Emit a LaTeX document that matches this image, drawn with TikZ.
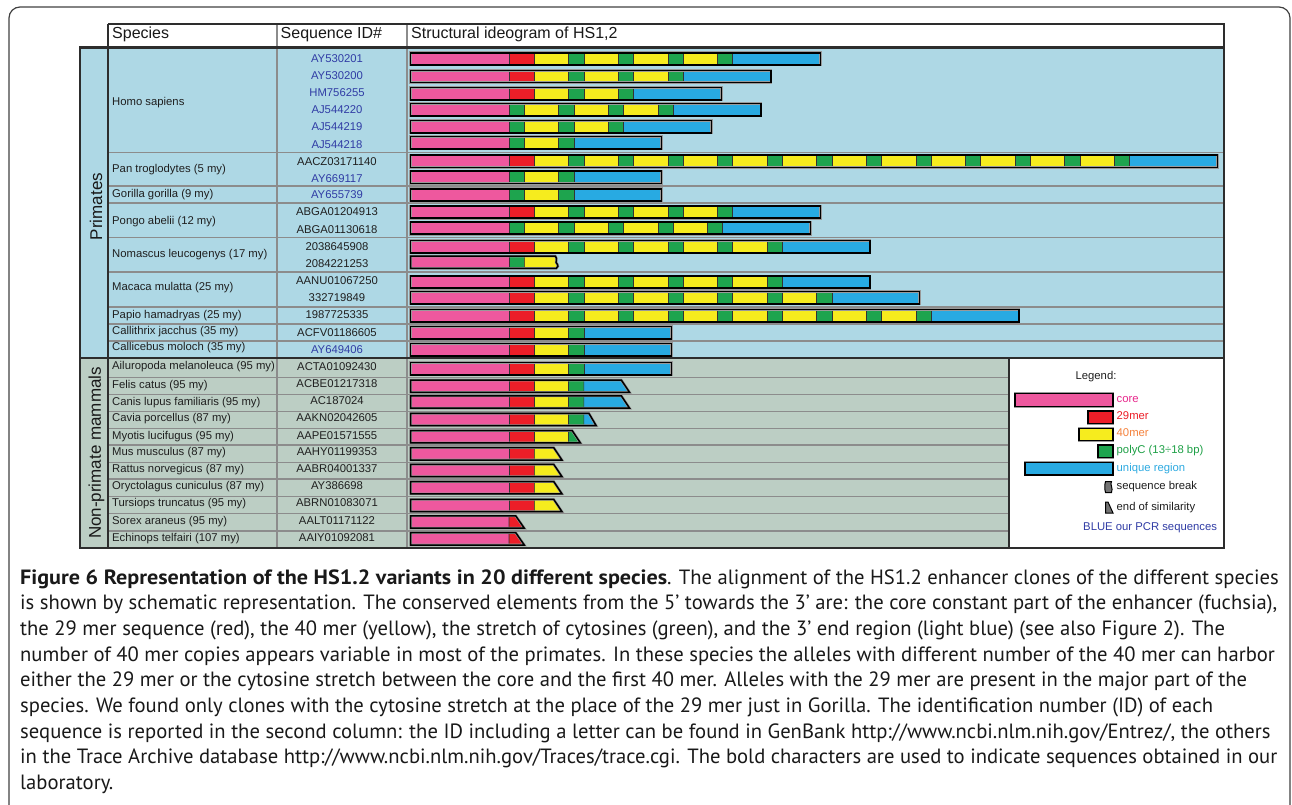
\documentclass[tikz,border=0pt]{standalone}
\usepackage{fontspec}
\usepackage{graphicx}
\setmainfont{Liberation Sans}
\newfontfamily\capfont{PT Sans}
\definecolor{cC}{RGB}{238,88,158}
\definecolor{cR}{RGB}{236,30,40}
\definecolor{cY}{RGB}{246,236,30}
\definecolor{cG}{RGB}{30,164,78}
\definecolor{cB}{RGB}{40,170,226}
\definecolor{bgP}{RGB}{174,216,229}
\definecolor{bgN}{RGB}{188,206,196}
\definecolor{gridgrey}{RGB}{140,140,140}
\definecolor{darkline}{RGB}{45,45,45}
\definecolor{pcrblue}{RGB}{48,60,165}
\definecolor{lgcore}{RGB}{232,40,140}
\definecolor{lgorange}{RGB}{245,130,60}
\definecolor{lggreen}{RGB}{30,160,70}
\definecolor{lgblue}{RGB}{45,170,225}
\definecolor{icongrey}{RGB}{115,115,115}
\def\wC{98.3}\def\wR{25.3}\def\wY{34.3}\def\wG{15.3}\def\wB{87.8}
\def\bh{6.2}
\newcommand\segs[2]{%
  \xdef\curx{410.7}%
  \foreach \segc in {#2}{%
    \pgfmathsetmacro\nx{\curx+\csname w\segc\endcsname}%
    \filldraw[segment, fill=c\segc] (\curx,#1-\bh) rectangle (\nx,#1+\bh);%
    \xdef\curx{\nx}%
  }%
}
\newcommand\plainend[1]{\draw[outline] (410.7,#1-\bh) rectangle (\curx,#1+\bh);}
\newcommand\tipend[4]{%
  \pgfmathsetmacro\xt{\curx+#3}\pgfmathsetmacro\xb{\curx+#4}%
  \filldraw[segment, fill=#2] (\curx,#1-\bh) -- (\xt,#1-\bh) -- (\xb,#1+\bh) -- (\curx,#1+\bh) -- cycle;
  \draw[outline] (410.7,#1-\bh) -- (\xt,#1-\bh) -- (\xb,#1+\bh) -- (410.7,#1+\bh) -- cycle;}
\newcommand\breakend[2]{%
  \pgfmathsetmacro\xa{\curx+31}%
  \filldraw[segment, fill=#2] (\curx,#1-\bh) -- (\xa,#1-\bh) .. controls (\xa+3,#1-3) and (\xa-1,#1) .. (\xa+2,#1+2) .. controls (\xa+3,#1+4) .. (\xa+1,#1+\bh) -- (\curx,#1+\bh) -- cycle;
  \draw[outline] (410.7,#1-\bh) -- (\xa,#1-\bh) .. controls (\xa+3,#1-3) and (\xa-1,#1) .. (\xa+2,#1+2) .. controls (\xa+3,#1+4) .. (\xa+1,#1+\bh) -- (410.7,#1+\bh) -- cycle;}
\newcommand\captwo{is shown by schematic representation. The conserved elements from the 5’ towards the 3’ are: the core constant part of the enhancer (fuchsia),}
\newcommand\capbold{Figure 6 Representation of the HS1.2 variants in 20 different species}
\newlength\caplen
\newlength\boldlen
\newsavebox\capbox
\begin{document}
\sbox\capbox{\capfont\fontsize{18}{20}\selectfont\captwo}%
\global\caplen=\wd\capbox
\pgfmathsetmacro\capsz{1257/\caplen*18}%
\xdef\capsz{\capsz}%
\sbox\capbox{\capfont\fontsize{\capsz}{\capsz}\selectfont\bfseries\capbold}%
\global\boldlen=\wd\capbox
\pgfmathsetmacro\bsx{647/\boldlen}%
\xdef\bsx{\bsx}%
\begin{tikzpicture}[x=1pt,y=-1pt,
  segment/.style={draw=black!80, line width=0.6pt},
  outline/.style={draw=black, line width=1.5pt, line join=miter, preaction={draw=black!40, line width=2.6pt}},
  legbar/.style={draw=black, line width=1.5pt, preaction={draw=black!40, line width=2.6pt}},
  tbl/.style={font=\fontsize{11.3}{13}\selectfont, inner sep=0pt, text=black!88},
  spec/.style={tbl, anchor=mid west},
  seqid/.style={tbl, anchor=mid},
  pcr/.style={seqid, text=pcrblue},
  hdr/.style={font=\fontsize{16}{18}\selectfont, inner sep=0pt, anchor=mid west, text=black!90},
  grp/.style={font=\fontsize{17}{18}\selectfont, inner sep=0pt, rotate=90, text=black!90},
  leg/.style={tbl, anchor=mid west},
  gridl/.style={draw=gridgrey, line width=1.4pt},
  darkl/.style={draw=darkline, line width=2pt},
  capline/.style={anchor=base west, inner sep=0pt, text=black!90, font=\capfont\fontsize{\capsz}{\capsz}\selectfont},
  frame/.style={draw=black!75, line width=1.2pt, rounded corners=11pt}]
\useasboundingbox (0,0) rectangle (1292,805);
% outer frame
\draw[frame] (9,805) -- (9,7) -- (1290,7) -- (1290,805);
% backgrounds
\fill[bgP] (80,47) rectangle (1224,358);
\fill[bgN] (80,358) rectangle (1224,548);
\fill[white] (1009,358) rectangle (1224,548);
\fill[white] (108,24) rectangle (1224,47);
% grid lines
\foreach \yy in {152.7,186,203,237.6,271.8,307,324,341}{\draw[gridl] (108,\yy) -- (1224,\yy);}
\foreach \yy in {377.7,394.3,411.5,428.3,445,462.3,479,496.6,513.4,530.8}{\draw[gridl] (108,\yy) -- (1009,\yy);}
\draw[gridl] (277,24) -- (277,548);
\draw[gridl] (407,24) -- (407,548);
% dark lines
\draw[draw=darkline, line width=1.2pt] (108,24) -- (1224,24) -- (1224,47);
\draw[draw=darkline, line width=2.6pt] (80,47.5) -- (1224,47.5);
\draw[darkl] (108,24) -- (108,548);
\draw[darkl] (80,47) rectangle (1224,548);
\draw[darkl] (80,358) -- (1224,358);
\draw[darkl] (1009,358) -- (1009,548);
% headers
\node[hdr] (hS) at (112,36) {Species};
\node[hdr] (hI) at (280.5,36) {Sequence ID\#};
\node[hdr] (hG) at (411,36) {Structural ideogram of HS1,2};
% group labels
\node[grp] (gP) at (96,206.5) {Primates};
\node[grp] (gN) at (96.5,453) {Non-primate mammals};
% species
\node[spec] (sHomo) at (112,103) {Homo sapiens};
\node[spec] (sPan) at (112,169.5) {Pan troglodytes (5 my)};
\node[spec] (sGor) at (112,195) {Gorilla gorilla (9 my)};
\node[spec] (sPon) at (112,221.5) {Pongo abelii (12 my)};
\node[spec] (sNom) at (112,254.5) {Nomascus leucogenys (17 my)};
\node[spec] (sMac) at (112,288) {Macaca mulatta (25 my)};
\node[spec] (sPap) at (112,316) {Papio hamadryas (25 my)};
\node[spec] (sCalj) at (112,331.5) {Callithrix jacchus (35 my)};
\node[spec] (sCalm) at (112,348) {Callicebus moloch (35 my)};
\node[spec] (sAil) at (112,366.7) {Ailuropoda melanoleuca (95 my)};
\node[spec] (sFel) at (112,386) {Felis catus (95 my)};
\node[spec] (sCan) at (112,402.7) {Canis lupus familiaris (95 my)};
\node[spec] (sCav) at (112,419) {Cavia porcellus (87 my)};
\node[spec] (sMyo) at (112,436.7) {Myotis lucifugus (95 my)};
\node[spec] (sMus) at (112,453.3) {Mus musculus (87 my)};
\node[spec] (sRat) at (112,470) {Rattus norvegicus (87 my)};
\node[spec] (sOry) at (112,487.3) {Oryctolagus cuniculus (87 my)};
\node[spec] (sTur) at (112,504) {Tursiops truncatus (95 my)};
\node[spec] (sSor) at (112,521.7) {Sorex araneus (95 my)};
\node[spec] (sEch) at (112,539) {Echinops telfairi (107 my)};
% IDs
\node[pcr] (i1) at (337,60) {AY530201};
\node[pcr] (i2) at (337,77.3) {AY530200};
\node[pcr] (i3) at (337,94) {HM756255};
\node[pcr] (i4) at (337,111) {AJ544220};
\node[pcr] (i5) at (337,128.3) {AJ544219};
\node[pcr] (i6) at (337,145.5) {AJ544218};
\node[seqid] (i7) at (337,163) {AACZ03171140};
\node[pcr] (i8) at (337,179.5) {AY669117};
\node[pcr] (i9) at (337,195.5) {AY655739};
\node[seqid] (i10) at (337,213.3) {ABGA01204913};
\node[seqid] (i11) at (337,230.5) {ABGA01130618};
\node[seqid] (i12) at (337,248.3) {2038645908};
\node[seqid] (i13) at (337,265) {2084221253};
\node[seqid] (i14) at (337,281.7) {AANU01067250};
\node[seqid] (i15) at (337,299) {332719849};
\node[seqid] (i16) at (337,316) {1987725335};
\node[seqid] (i17) at (337,333.5) {ACFV01186605};
\node[pcr] (i18) at (337,350.5) {AY649406};
\node[seqid] (i19) at (337,367.7) {ACTA01092430};
\node[seqid] (i20) at (337,384.7) {ACBE01217318};
\node[seqid] (i21) at (337,402.3) {AC187024};
\node[seqid] (i22) at (337,419.3) {AAKN02042605};
\node[seqid] (i23) at (337,436.7) {AAPE01571555};
\node[seqid] (i24) at (337,453.3) {AAHY01199353};
\node[seqid] (i25) at (337,470) {AABR04001337};
\node[seqid] (i26) at (337,487.3) {AY386698};
\node[seqid] (i27) at (337,504.3) {ABRN01083071};
\node[seqid] (i28) at (337,521.7) {AALT01171122};
\node[seqid] (i29) at (337,539) {AAIY01092081};
% bars: primates
\segs{59}{C,R,Y,G,Y,G,Y,G,Y,G,B}\plainend{59}
\segs{76.5}{C,R,Y,G,Y,G,Y,G,B}\plainend{76.5}
\segs{93.8}{C,R,Y,G,Y,G,B}\plainend{93.8}
\segs{109.7}{C,G,Y,G,Y,G,Y,G,B}\plainend{109.7}
\segs{126.7}{C,G,Y,G,Y,G,B}\plainend{126.7}
\segs{142.7}{C,G,Y,G,B}\plainend{142.7}
\segs{161.3}{C,R,Y,G,Y,G,Y,G,Y,G,Y,G,Y,G,Y,G,Y,G,Y,G,Y,G,Y,G,Y,G,B}\plainend{161.3}
\segs{177.2}{C,G,Y,G,B}\plainend{177.2}
\segs{195}{C,G,Y,G,B}\plainend{195}
\segs{212}{C,R,Y,G,Y,G,Y,G,Y,G,B}\plainend{212}
\segs{228}{C,G,Y,G,Y,G,Y,G,Y,G,B}\plainend{228}
\segs{246.7}{C,R,Y,G,Y,G,Y,G,Y,G,Y,G,B}\plainend{246.7}
\segs{262.2}{C,G}\breakend{262.2}{cY}
\segs{282}{C,R,Y,G,Y,G,Y,G,Y,G,Y,G,B}\plainend{282}
\segs{297.8}{C,R,Y,G,Y,G,Y,G,Y,G,Y,G,Y,G,B}\plainend{297.8}
\segs{315.7}{C,R,Y,G,Y,G,Y,G,Y,G,Y,G,Y,G,Y,G,Y,G,B}\plainend{315.7}
\segs{332.8}{C,R,Y,G,B}\plainend{332.8}
\segs{349.7}{C,R,Y,G,B}\plainend{349.7}
% bars: non-primates
\segs{368.7}{C,R,Y,G,B}\plainend{368.7}
\segs{386.2}{C,R,Y,G}\tipend{386.2}{cB}{37.4}{45.7}
\segs{402}{C,R,Y,G}\tipend{402}{cB}{37.4}{45.7}
\segs{419.5}{C,R,Y,G}\tipend{419.5}{cB}{5}{12.3}
\segs{436.7}{C,R,Y}\tipend{436.7}{cG}{3.5}{11.8}
\segs{453.8}{C,R}\tipend{453.8}{cY}{19.4}{27.7}
\segs{470.5}{C,R}\tipend{470.5}{cY}{19.4}{27.7}
\segs{487.7}{C,R}\tipend{487.7}{cY}{19.4}{27.7}
\segs{505.5}{C,R}\tipend{505.5}{cY}{19.4}{27.7}
\segs{522}{C}\tipend{522}{cR}{6.7}{15.3}
\segs{538.8}{C}\tipend{538.8}{cR}{6.7}{15.3}
% legend
\node[tbl, anchor=mid] (lgT) at (1096,377) {Legend:};
\filldraw[legbar, fill=cC] (1015,393.3) rectangle (1113,406.7);
\node[leg, text=lgcore] (lg1) at (1116.5,400) {core};
\filldraw[legbar, fill=cR] (1088,411) rectangle (1113,423.3);
\node[leg, text=cR] (lg2) at (1116.5,417) {29mer};
\filldraw[legbar, fill=cY] (1079,428.3) rectangle (1113,440.3);
\node[leg, text=lgorange] (lg3) at (1116.5,434.3) {40mer};
\filldraw[legbar, fill=cG] (1098,445) rectangle (1113,457.3);
\node[leg, text=lggreen] (lg4) at (1116.5,451.2) {polyC (13÷18 bp)};
\filldraw[legbar, fill=cB] (1025,462.3) rectangle (1113,475);
\node[leg, text=lgblue] (lg5) at (1116.5,468.7) {unique region};
\filldraw[fill=icongrey, draw=black, line width=1pt] (1105.5,481.5) -- (1111.5,481.5) .. controls (1109.5,484.5) and (1113.5,488) .. (1111.5,492.5) -- (1105.5,492.5) .. controls (1104.5,489) and (1104.5,485) .. cycle;
\node[leg, text=black!88] (lg6) at (1116.5,487) {sequence break};
\filldraw[fill=icongrey, draw=black, line width=1pt] (1105.5,502) -- (1108,502) -- (1113,513) -- (1105.5,513) -- cycle;
\node[leg, text=black!88] (lg7) at (1116.5,507.5) {end of similarity};
\node[leg, text=pcrblue] (lg8) at (1083,527.7) {BLUE our PCR sequences};
% caption
\node[capline] (c1) at (20,584) {\scalebox{\bsx}[1]{\bfseries\capbold}. The alignment of the HS1.2 enhancer clones of the different species};
\node[capline] (c2) at (20,609.7) {\captwo};
\node[capline] (c3) at (20,635.4) {the 29 mer sequence (red), the 40 mer (yellow), the stretch of cytosines (green), and the 3’ end region (light blue) (see also Figure 2). The};
\node[capline] (c4) at (20,661.1) {number of 40 mer copies appears variable in most of the primates. In these species the alleles with different number of the 40 mer can harbor};
\node[capline] (c5) at (20,686.8) {either the 29 mer or the cytosine stretch between the core and the first 40 mer. Alleles with the 29 mer are present in the major part of the};
\node[capline] (c6) at (20,712.5) {species. We found only clones with the cytosine stretch at the place of the 29 mer just in Gorilla. The identification number (ID) of each};
\node[capline] (c7) at (20,738.2) {sequence is reported in the second column: the ID including a letter can be found in GenBank http://www.ncbi.nlm.nih.gov/Entrez/, the others};
\node[capline] (c8) at (20,763.9) {in the Trace Archive database http://www.ncbi.nlm.nih.gov/Traces/trace.cgi. The bold characters are used to indicate sequences obtained in our};
\node[capline] (c9) at (20,789.6) {laboratory.};
\end{tikzpicture}
\end{document}
